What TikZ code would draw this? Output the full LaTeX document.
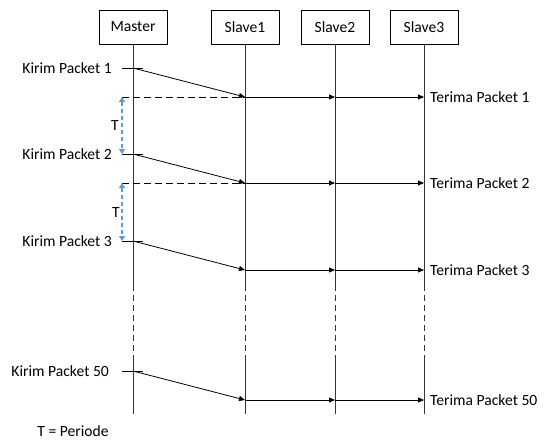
\documentclass[tikz,border=0pt]{standalone}
\usepackage{fontspec}
\setmainfont{Carlito}
\usetikzlibrary{arrows.meta}
\definecolor{tblue}{RGB}{91,155,213}
\begin{document}
\begin{tikzpicture}[x=1pt,y=-1pt,
  font=\fontsize{15.6}{18}\selectfont,
  actor/.style={draw,line width=0.8pt,minimum width=68pt,minimum height=34pt,inner sep=0pt},
  life/.style={line width=0.8pt,draw=black!80},
  msg/.style={line width=0.8pt,-{Triangle[length=6pt,width=5pt]}},
  tick/.style={line width=0.8pt},
  ref/.style={line width=0.8pt,dash pattern=on 7pt off 4pt},
  per/.style={tblue,line width=1.2pt,dash pattern=on 4pt off 3pt,{Triangle[length=5pt,width=6pt]}-{Triangle[length=5pt,width=6pt]}},
  lbl/.style={inner sep=0pt}]
\useasboundingbox (0,0) rectangle (545,439);
% actors
\node[actor] (M) at (133,27) {Master};
\node[actor] (S1) at (245,27) {Slave1};
\node[actor] (S2) at (335,27) {Slave2};
\node[actor] (S3) at (424,27) {Slave3};
% lifelines
\foreach \n/\x in {M/133,S1/245,S2/335,S3/424}{
  \coordinate (\n a) at (\x,285);
  \coordinate (\n b) at (\x,358);
  \coordinate (\n e) at (\x,414);
  \draw[life] (\n.south) -- (\n a);
  \draw[life,dash pattern=on 6pt off 4pt] (\n a) -- (\n b);
  \draw[life] (\n b) -- (\n e);
}
% messages
\foreach \i/\ys/\yr/\k/\t in {1/68/97/{Kirim Packet 1}/{Terima Packet 1},2/154/183/{Kirim Packet 2}/{Terima Packet 2},3/241/270/{Kirim Packet 3}/{Terima Packet 3},50/371/400/{Kirim Packet 50}/{Terima Packet 50}}{
  \coordinate (m\i) at (133,\ys);
  \coordinate (tl\i) at (122,\ys);
  \coordinate (tr\i) at (143,\ys);
  \coordinate (r1\i) at (245,\yr);
  \coordinate (r2\i) at (335,\yr);
  \coordinate (r3\i) at (424,\yr);
  \draw[tick] (tl\i) -- (tr\i);
  \draw[msg] (m\i) -- (r1\i);
  \draw[msg] (r1\i) -- (r2\i);
  \draw[msg] (r2\i) -- (r3\i);
  \node[lbl,anchor=west] (recv\i) at (430,\yr) {\t};
}
\node[lbl,anchor=east] (send1) at (112,68) {Kirim Packet 1};
\node[lbl,anchor=east] (send2) at (112,154) {Kirim Packet 2};
\node[lbl,anchor=east] (send3) at (112,241) {Kirim Packet 3};
\node[lbl,anchor=east] (send50) at (109,371) {Kirim Packet 50};
% reference dashed lines
\coordinate (d1) at (122,97);
\coordinate (d2) at (122,183);
\draw[ref] (d1) -- (r11);
\draw[ref] (d2) -- (r12);
% periods
\draw[per] (d1) -- (tl2);
\draw[per] (d2) -- (tl3);
\node[lbl] (T1) at (115,125) {T};
\node[lbl] (T2) at (116,212) {T};
\node[lbl] (legend) at (73,431) {T = Periode};
\end{tikzpicture}
\end{document}
